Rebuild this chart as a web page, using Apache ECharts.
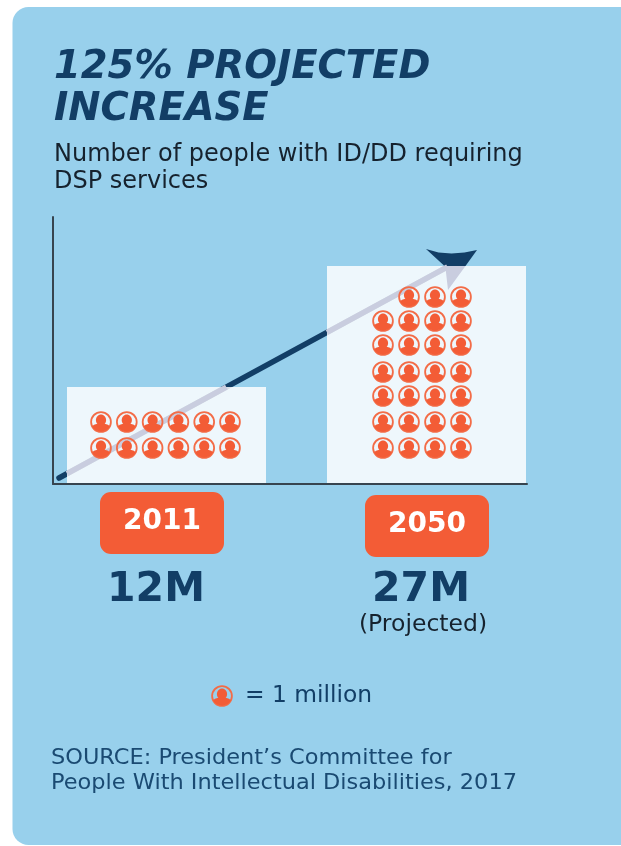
<!DOCTYPE html>
<html>
<head>
<meta charset="utf-8">
<style>html,body{margin:0;padding:0;background:#fff}#chart{width:621px;height:846px}</style>
<script src="https://cdn.jsdelivr.net/npm/echarts@6/dist/echarts.min.js"></script>
</head>
<body>
<div id="chart"></div>
<script>
// Figures, in millions of people
const years = [2011, 2050];
const peopleMillions = [12, 27];
const yearNotes = ['', '(Projected)'];

const titleText = '125% PROJECTED\nINCREASE';
const subtitleText = 'Number of people with ID/DD requiring\nDSP services';
const legendText = '= 1 million';
const sourceText = 'SOURCE: President\u2019s Committee for\nPeople With Intellectual Disabilities, 2017';

const NAVY = '#123e66';
const ORANGE = '#f35c36';
const RING = '#f36c47';
const HAZE = '#c9cddf';
const FONT = '"DejaVu Sans", Verdana, sans-serif';
const BAR_WIDTH = 199;
const SHAFT_WIDTH = 5.5;

// Pictogram layout for each year's block of icons
const iconCols = [6, 4];
const iconFirstCol = [-65.5, -43.5];
const iconColStep = [25.8, 26];
const iconRowRise = [36, 62, 88, 112, 139, 163, 187];

// Year badge and total placement
const badgeCentre = [162, 427];
const badgeTop = [492, 495];
const totalCentre = [156, 421];

// Shoulders of the person icon, centred on the ring
const SHOULDERS = [[-8.8, 4.2], [-7, 2.8], [-4.5, 2.1], [4.5, 2.1], [7, 2.8], [8.8, 4.2],
  [7.4, 6.5], [4.7, 8.5], [0, 9.7], [-4.7, 8.5], [-7.4, 6.5]];

function personIcon(x, y) {
  return [
    { type: 'circle', x, y, shape: { cx: 0, cy: 0, r: 9.9 }, style: { fill: null, stroke: RING, lineWidth: 1.8 } },
    { type: 'ellipse', x, y, shape: { cx: 0, cy: -2, rx: 5.1, ry: 5.6 }, style: { fill: ORANGE } },
    { type: 'polygon', x, y, shape: { points: SHOULDERS }, style: { fill: ORANGE } }
  ];
}

// One cell per million, filled from the bottom row upward and from the right
const iconCells = [];
years.forEach((year, i) => {
  for (let n = 0; n < peopleMillions[i]; n++) {
    const row = Math.floor(n / iconCols[i]);
    const col = iconCols[i] - 1 - (n % iconCols[i]);
    iconCells.push([year, i, row, col]);
  }
});

// 2011 and 2050 sit 260px apart, which fixes the year range of the plot width
const PX_PER_YEAR = 260 / 39;
const xMin = 2011 - 113.5 / PX_PER_YEAR;
const xMax = xMin + 474 / PX_PER_YEAR;

// Ends of the arrow shaft, from the plot origin to the top of the later bar
function shaftEnds(api) {
  const [ax, ay] = api.coord([years[1], peopleMillions[1]]);
  const [ox, oy] = api.coord([xMin, 0]);
  return { x1: ox + 6, y1: oy - 6, x2: ax + 21, y2: ay + 1, ax, ay };
}

const chart = echarts.init(document.getElementById('chart'), null, { renderer: 'canvas' });

const badges = years.flatMap((year, i) => [
  {
    type: 'rect', z: 10,
    shape: { x: badgeCentre[i] - 62, y: badgeTop[i], width: 124, height: 62, r: 11 },
    style: { fill: ORANGE }
  },
  {
    type: 'text', z: 11, x: badgeCentre[i], y: badgeTop[i] + 30,
    style: { text: String(year), fill: '#fff', font: 'bold 28px ' + FONT, textAlign: 'center', textVerticalAlign: 'middle' }
  },
  {
    type: 'text', z: 11, x: totalCentre[i], y: 590,
    style: { text: peopleMillions[i] + 'M', fill: NAVY, font: 'bold 41px ' + FONT, textAlign: 'center', textVerticalAlign: 'middle' }
  }
]);

chart.setOption({
  animation: false,
  backgroundColor: '#fff',
  title: [
    {
      text: titleText, left: 49, top: 42,
      textStyle: { fontFamily: FONT, fontSize: 38.5, fontWeight: 'bold', fontStyle: 'italic', color: NAVY, lineHeight: 42 }
    },
    {
      text: subtitleText, left: 49, top: 136,
      textStyle: { fontFamily: FONT, fontSize: 24, fontWeight: 'normal', color: '#16222e', lineHeight: 27 }
    }
  ],
  grid: { left: 53, right: 94, top: 217, bottom: 362 },
  xAxis: {
    type: 'value', min: xMin, max: xMax, z: 6,
    axisLine: { show: true, onZero: false, lineStyle: { color: '#37444f', width: 2 } },
    axisTick: { show: false }, axisLabel: { show: false }, splitLine: { show: false }
  },
  yAxis: {
    type: 'value', min: 0, max: 33.05, z: 6,
    axisLine: { show: true, onZero: false, lineStyle: { color: '#37444f', width: 2 } },
    axisTick: { show: false }, axisLabel: { show: false }, splitLine: { show: false }
  },
  series: [
    {
      // Growth arrow, passing behind the bars
      type: 'custom', z: 1, silent: true,
      data: [[0]],
      renderItem(params, api) {
        const s = shaftEnds(api);
        const pt = (dx, dy) => [s.ax + dx, s.ay + dy];
        return {
          type: 'group',
          children: [
            {
              type: 'line',
              shape: { x1: s.x1, y1: s.y1, x2: s.x2, y2: s.y2 },
              style: { stroke: NAVY, lineWidth: SHAFT_WIDTH, lineCap: 'round' }
            },
            {
              type: 'polygon',
              shape: { points: [pt(-0.5, -17), pt(12, -13.5), pt(25, -12.5), pt(38, -13.5), pt(50.5, -16), pt(39, 0), pt(18, 0)] },
              style: { fill: NAVY }
            }
          ]
        };
      }
    },
    {
      type: 'bar', z: 2, barWidth: BAR_WIDTH, silent: true,
      itemStyle: { color: 'rgba(255,255,255,0.83)' },
      data: years.map((year, i) => [year, peopleMillions[i]])
    },
    {
      // The stretches of arrow that show through the bars, in a muted tone
      type: 'custom', z: 3, silent: true,
      data: [[0]],
      renderItem(params, api) {
        const s = shaftEnds(api);
        const slope = (s.y2 - s.y1) / (s.x2 - s.x1);
        const yAt = (x) => s.y1 + (x - s.x1) * slope;
        const left = api.coord([years[0], 0])[0] - BAR_WIDTH / 2;
        const top = api.coord([0, peopleMillions[0]])[1];
        const crossTop = s.x1 + (top - s.y1) / slope;
        const right = api.coord([years[1], 0])[0] - BAR_WIDTH / 2;
        const pt = (dx, dy) => [s.ax + dx, s.ay + dy];
        return {
          type: 'group',
          children: [
            {
              type: 'line',
              shape: { x1: left, y1: yAt(left), x2: crossTop, y2: top },
              style: { stroke: HAZE, lineWidth: SHAFT_WIDTH }
            },
            {
              type: 'line',
              shape: { x1: right, y1: yAt(right), x2: s.x2, y2: s.y2 },
              style: { stroke: HAZE, lineWidth: SHAFT_WIDTH }
            },
            {
              type: 'polygon',
              shape: { points: [pt(18, 0), pt(39, 0), pt(21.5, 24), pt(19, 2)] },
              style: { fill: HAZE }
            }
          ]
        };
      }
    },
    {
      type: 'custom', z: 4, silent: true,
      data: iconCells,
      renderItem(params, api) {
        const i = api.value(1);
        const [cx, cy] = api.coord([api.value(0), 0]);
        const x = cx + iconFirstCol[i] + api.value(3) * iconColStep[i];
        const y = cy - iconRowRise[api.value(2)];
        return { type: 'group', children: personIcon(x, y) };
      }
    }
  ],
  graphic: [
    {
      type: 'rect', z: -10, silent: true,
      shape: { x: 12.5, y: 7, width: 640, height: 838, r: [16, 0, 0, 16] },
      style: { fill: '#98d0ec' }
    },
    ...badges,
    {
      type: 'text', z: 11, x: 423, y: 625,
      style: { text: yearNotes[1], fill: '#16222e', font: '23.5px ' + FONT, textAlign: 'center', textVerticalAlign: 'middle' }
    },
    { type: 'group', z: 11, children: personIcon(222, 696).map(e => ({ ...e, z: 11 })) },
    {
      type: 'text', z: 11, x: 245, y: 696, scaleX: 1.016,
      style: { text: legendText, fill: NAVY, font: '23px ' + FONT, textAlign: 'left', textVerticalAlign: 'middle' }
    },
    {
      type: 'text', z: 11, x: 51, y: 746, scaleX: 1.069,
      style: { text: sourceText, fill: '#1a4a72', font: '21px ' + FONT, lineHeight: 25, textAlign: 'left', textVerticalAlign: 'top' }
    }
  ]
});
</script>
</body>
</html>
